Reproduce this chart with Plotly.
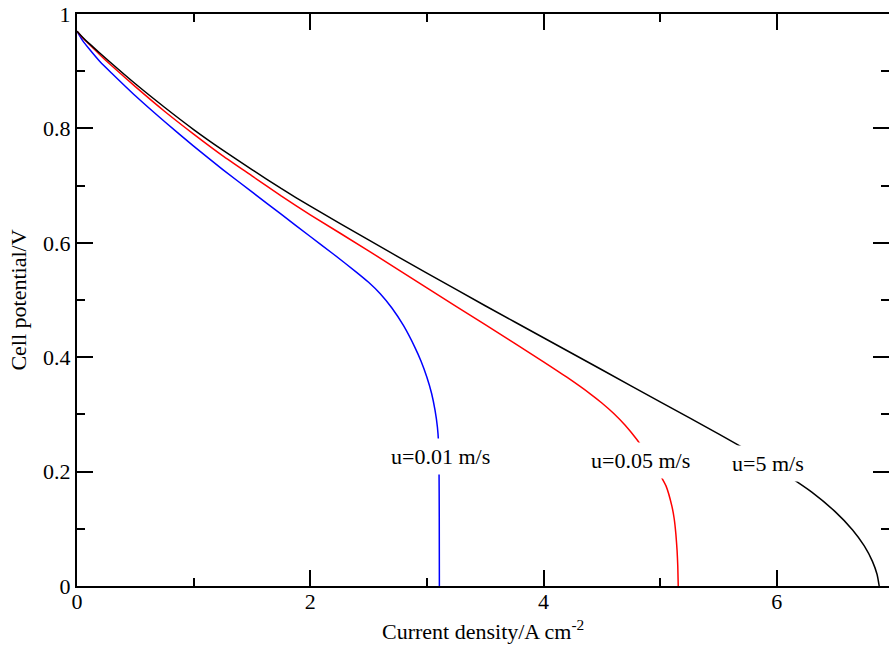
import plotly.graph_objects as go

# Current density (A cm^-2) and cell potential (V) for each inlet velocity
i_u001 = [0.0, 0.05, 0.1, 0.2, 0.3, 0.5, 0.75, 1.0, 1.25, 1.5, 1.75, 2.0, 2.2, 2.4, 2.5,
          2.6, 2.7, 2.8, 2.9, 2.95, 3.0, 3.04, 3.07, 3.09, 3.1, 3.104, 3.106, 3.107]
v_u001 = [0.970, 0.953, 0.940, 0.916, 0.896, 0.857, 0.812, 0.769, 0.728, 0.689, 0.650, 0.611,
          0.580, 0.548, 0.531, 0.511, 0.486, 0.455, 0.416, 0.393, 0.365, 0.337, 0.307, 0.278,
          0.251, 0.205, 0.120, 0.0]

i_u005 = [0.0, 0.05, 0.1, 0.2, 0.3, 0.5, 0.75, 1.0, 1.25, 1.5, 1.75, 2.0, 2.5, 3.0, 3.5,
          4.0, 4.2, 4.4, 4.5, 4.6, 4.7, 4.8, 4.9, 5.0, 5.05, 5.1, 5.12, 5.135, 5.145, 5.151,
          5.155]
v_u005 = [0.970, 0.958, 0.948, 0.928, 0.909, 0.873, 0.830, 0.790, 0.752, 0.717, 0.682, 0.649,
          0.586, 0.521, 0.457, 0.392, 0.365, 0.336, 0.320, 0.302, 0.281, 0.256, 0.227, 0.194,
          0.175, 0.140, 0.118, 0.090, 0.062, 0.035, 0.0]

i_u5 = [0.0, 0.05, 0.1, 0.2, 0.3, 0.5, 0.75, 1.0, 1.25, 1.5, 1.75, 2.0, 2.5, 3.0, 3.5, 4.0,
        4.5, 5.0, 5.5, 5.8, 6.1, 6.3, 6.5, 6.65, 6.75, 6.82, 6.86, 6.878]
v_u5 = [0.970, 0.959, 0.949, 0.931, 0.913, 0.878, 0.837, 0.798, 0.762, 0.728, 0.695, 0.664,
        0.605, 0.547, 0.490, 0.434, 0.378, 0.322, 0.266, 0.231, 0.192, 0.164, 0.130, 0.098,
        0.070, 0.043, 0.020, 0.0]

series = [
    (i_u001, v_u001, "#0000ff", "u=0.01 m/s"),
    (i_u005, v_u005, "#ff0000", "u=0.05 m/s"),
    (i_u5, v_u5, "#000000", "u=5 m/s"),
]
label_pos = {"u=0.01 m/s": (3.12, 0.227), "u=0.05 m/s": (4.833, 0.220), "u=5 m/s": (5.926, 0.215)}

FONT = "Liberation Serif, Times New Roman, serif"

fig = go.Figure()
for xs, ys, col, name in series:
    fig.add_trace(go.Scatter(x=xs, y=ys, mode="lines", name=name,
                             line=dict(color=col, width=1.5, shape="spline", smoothing=0.5),
                             hoverinfo="skip"))
# helper trace for right-side tick axis
fig.add_trace(go.Scatter(x=[None], y=[None], yaxis="y2", showlegend=False, hoverinfo="skip"))

for name, (lx, ly) in label_pos.items():
    fig.add_annotation(x=lx, y=ly, text=name, showarrow=False, bgcolor="white",
                       borderpad=5, font=dict(family=FONT, size=22, color="black"))

# x-axis title
fig.add_annotation(xref="paper", yref="paper", x=0.5, y=-0.077, yanchor="middle",
                   text="Current density/A cm<sup>-2</sup>", showarrow=False,
                   font=dict(family=FONT, size=22, color="black"))

tickcommon = dict(ticks="inside", ticklen=16, tickwidth=1.5, tickcolor="black",
                  showgrid=False, zeroline=False)
fig.update_layout(
    width=889, height=653,
    margin=dict(l=77, r=0, t=14, b=67),
    paper_bgcolor="white", plot_bgcolor="white",
    showlegend=False,
    font=dict(family=FONT, size=22, color="black"),
    xaxis=dict(range=[0, 6.962], tick0=0, dtick=2, showline=True, linewidth=2,
               linecolor="black", mirror="ticks", ticklabelstandoff=-5,
               minor=dict(dtick=1, ticks="inside", ticklen=8, tickwidth=1.5, tickcolor="black",
                          showgrid=False),
               tickfont=dict(family=FONT, size=22),
               **tickcommon),
    yaxis=dict(range=[0, 1], tick0=0, dtick=0.2, showline=True, linewidth=2,
               linecolor="black", mirror=False,
               minor=dict(dtick=0.1, ticks="inside", ticklen=8, tickwidth=1.5, tickcolor="black",
                          showgrid=False),
               tickfont=dict(family=FONT, size=22),
               title=dict(text="Cell potential/V", standoff=10,
                          font=dict(family=FONT, size=22)),
               **tickcommon),
    yaxis2=dict(range=[0, 1], tick0=0, dtick=0.2, overlaying="y", side="right", anchor="x",
                showline=False, showticklabels=False,
                minor=dict(dtick=0.1, ticks="inside", ticklen=8, tickwidth=1.5, tickcolor="black",
                           showgrid=False),
                **tickcommon),
)

fig.write_html("out.html")
